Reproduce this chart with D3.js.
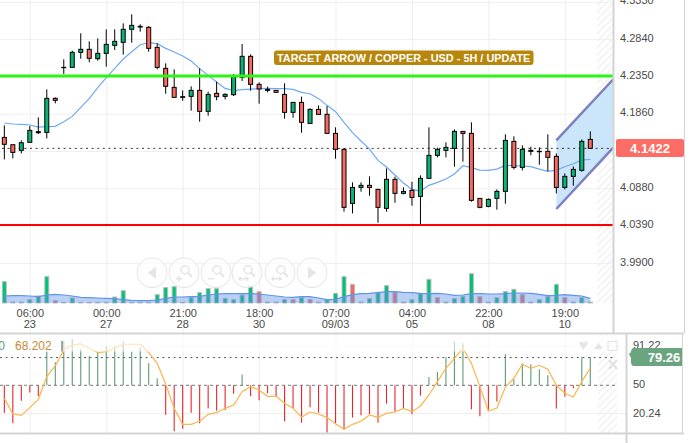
<!DOCTYPE html>
<html>
<head>
<meta charset="utf-8">
<script src="https://cdn.jsdelivr.net/npm/d3@7"></script>
<style>
    html, body { margin: 0; padding: 0; background: #fff; overflow: hidden; }
    svg { display: block; font-family: "Liberation Sans", Arial, sans-serif; }
    .domain { display: none; }
</style>
</head>
<body>
<svg id="chart" width="695" height="443"></svg>
<script>
// ---- candles
const opens = [4.1530,4.1434,4.1360,4.1465,4.1592,4.1596,4.2043,4.2446,4.2450,4.2647,4.2687,4.2564,4.2634,4.2739,4.2779,4.2950,4.2980,4.2976,4.2713,4.2437,4.2187,4.2056,4.2069,4.2148,4.1872,4.2109,4.2069,4.2091,4.2319,4.2595,4.2227,4.2148,4.2148,4.2095,4.1859,4.1990,4.1714,4.1898,4.1833,4.1583,4.1373,4.0663,4.0873,4.0900,4.0847,4.0598,4.0979,4.0795,4.0834,4.0755,4.0992,4.1294,4.1360,4.1386,4.1609,4.1583,4.0729,4.0624,4.0729,4.0821,4.1478,4.1136,4.1347,4.1342,4.1347,4.1281,4.0873,4.1018,4.1097,4.1504];
const closes = [4.1439,4.1333,4.1460,4.1622,4.1605,4.2043,4.2017,4.2450,4.2647,4.2687,4.2569,4.2634,4.2752,4.2792,4.2950,4.3002,4.2989,4.2700,4.2450,4.2201,4.2056,4.2065,4.2148,4.1872,4.2095,4.2065,4.2095,4.2328,4.2595,4.2227,4.2166,4.2161,4.2122,4.1859,4.1990,4.1728,4.1898,4.1833,4.1583,4.1373,4.0611,4.0873,4.0900,4.0873,4.0611,4.0979,4.0795,4.0821,4.0742,4.0992,4.1294,4.1373,4.1399,4.1609,4.1583,4.0703,4.0611,4.0716,4.0821,4.1491,4.1136,4.1373,4.1360,4.1347,4.1268,4.0873,4.1018,4.1110,4.1478,4.1386];
const highs = [4.1688,4.1434,4.1491,4.1679,4.1793,4.2161,4.2056,4.2555,4.2669,4.2897,4.2792,4.2831,4.2950,4.2950,4.3028,4.3147,4.3015,4.2993,4.2766,4.2503,4.2424,4.2148,4.2201,4.2437,4.2131,4.2262,4.2109,4.2363,4.2757,4.2621,4.2253,4.2196,4.2148,4.2240,4.1990,4.2065,4.1912,4.1951,4.1942,4.1662,4.1386,4.0939,4.0939,4.1018,4.0856,4.1123,4.1014,4.0873,4.0948,4.1031,4.1662,4.1395,4.1465,4.1636,4.1614,4.1728,4.0729,4.0729,4.0847,4.1570,4.1544,4.1425,4.1408,4.1399,4.1570,4.1320,4.1057,4.1149,4.1504,4.1609];
const lows = [4.1241,4.1255,4.1320,4.1465,4.1574,4.1517,4.1977,4.2363,4.2450,4.2564,4.2516,4.2538,4.2459,4.2678,4.2617,4.2774,4.2919,4.2656,4.2424,4.2104,4.2052,4.2012,4.1881,4.1736,4.1815,4.2017,4.2030,4.2074,4.2271,4.2144,4.1973,4.2122,4.2117,4.1776,4.1789,4.1592,4.1714,4.1828,4.1583,4.1250,4.0554,4.0532,4.0817,4.0764,4.0409,4.0554,4.0672,4.0782,4.0633,4.0392,4.0992,4.1268,4.1268,4.1145,4.1211,4.0685,4.0598,4.0611,4.0580,4.0659,4.1110,4.1097,4.1294,4.1171,4.1084,4.0795,4.0847,4.0895,4.1079,4.1386];
const priceMa = [4.1719,4.1706,4.1701,4.1693,4.1666,4.1671,4.1675,4.1736,4.1806,4.1925,4.2039,4.2183,4.2315,4.2437,4.2560,4.2656,4.2748,4.2774,4.2761,4.2700,4.2652,4.2599,4.2533,4.2433,4.2345,4.2258,4.2174,4.2144,4.2157,4.2165,4.2170,4.2174,4.2170,4.2170,4.2161,4.2122,4.2104,4.2039,4.1951,4.1868,4.1728,4.1592,4.1482,4.1377,4.1228,4.1141,4.1036,4.0930,4.0847,4.0825,4.0900,4.0939,4.0983,4.1049,4.1158,4.1132,4.1101,4.1097,4.1114,4.1163,4.1158,4.1154,4.1145,4.1114,4.1084,4.1101,4.1145,4.1184,4.1233,4.1241];

// ---- volume (arbitrary units)
const volumes = [64,3,3,10,21,79,7,2,15,2,2,2,2,18,37,2,2,2,25,46,49,2,16,31,43,43,14,10,24,49,34,3,3,10,10,16,11,3,10,29,79,56,3,13,32,52,32,3,10,28,71,16,3,13,20,88,19,3,16,34,41,25,3,10,20,56,16,3,16,3];
const volumeDown = [6,30,34,36,41,46,51,56,61,66];
const volumeMa = [21,22,22,21,19,24,26,24,21,17,16,15,14,13,10,8,7,7,9,14,18,18,19,20,24,27,28,28,28,28,27,24,21,18,17,19,19,15,10,11,19,25,28,29,31,34,34,32,31,29,28,29,27,23,24,28,28,27,27,28,30,30,29,26,22,23,25,23,21,14];

// ---- oscillator
const oscBars = [21.1,9.9,33.8,42.3,38.7,85.6,74.3,96.8,98.9,88.0,80.6,84.8,91.2,91.2,96.5,85.6,89.8,73.2,57.4,19.0,1.4,4.2,21.1,9.9,25.4,23.2,24.0,41.2,61.3,38.4,34.2,41.6,38.4,12.0,25.7,10.6,26.8,21.1,0.0,9.9,3.5,15.9,18.3,19.7,10.6,30.6,22.2,25.4,19.4,39.1,58.8,64.1,79.6,96.1,94.4,24.7,17.3,23.6,32.8,82.7,56.3,73.2,72.2,66.9,60.6,25.4,38.0,46.8,79.6,79.6];
const oscLine = [36.3,19.7,18.3,26.4,35.2,59.2,70.4,87.3,92.6,93.6,89.1,84.5,85.6,89.1,93.3,93.3,93.3,84.5,73.2,51.4,25.7,8.8,8.8,12.0,19.4,21.1,25.7,29.2,43.3,48.6,45.1,38.4,38.4,31.0,25.7,16.2,21.8,19.7,15.9,9.5,3.5,8.8,12.0,18.7,16.2,20.4,21.8,25.7,22.2,28.2,39.8,53.9,68.0,78.5,89.1,73.2,48.6,22.9,26.1,48.2,57.4,72.2,68.0,71.1,66.9,50.0,41.6,37.7,53.9,68.3];
const oscTicks = [91.22, 50, 20.24];
const oscLevel = 79.26;

// ---- axes and annotations
const priceTicks = [4.333,4.284,4.235,4.186,4.137,4.088,4.039,3.990];
const hiddenPriceLabel = 4.137; // sits under the last price tag
const timeTickIndex = [3,12,21,30,39,48,57,66];
const timeTickTop = ["06:00","00:00","21:00","18:00","07:00","04:00","22:00","19:00"];
const timeTickBottom = ["23","27","28","30","09/03","05","08","10"];
const resistance = 4.2337;
const support = 4.0379;
const channelIndex = [65, 71.7];
const channelUpper = [4.1491, 4.2293];
const channelLower = [4.0589, 4.1395];

const GREEN = "#0ab574", RED = "#f8695f", GRID = "#efefef", BORDER = "#d4d4d4", TEXT = "#4a4a4a";
const paneRight = 613, oscRight = 626;

const svg = d3.select("#chart");

const x = d3.scaleLinear().domain([0, 69]).range([4.33, 590.3]);
const y = d3.scaleLinear().domain([4.3335, 4.3335 - 0.0013137 * 300]).range([0, 300]);
const yVol = d3.scaleLinear().domain([0, 90]).range([303, 273]);
const yOsc = d3.scaleLinear().domain([50, 20.24]).range([385.3, 413.5]);
const axisNudge = 1.4; // price labels sit slightly below the marks in the original

// hatch for the empty area right of the last bar
const hatch = svg.append("defs").append("pattern")
    .attr("id", "hatch").attr("width", 5).attr("height", 5)
    .attr("patternUnits", "userSpaceOnUse").attr("patternTransform", "rotate(-45)");
hatch.append("rect").attr("width", 5).attr("height", 5).attr("fill", "#fff");
hatch.append("rect").attr("width", 5).attr("height", 2).attr("fill", "#f4f4f4");

const defs = svg.select("defs");
defs.append("clipPath").attr("id", "mainClip").append("rect")
    .attr("x", 0).attr("y", 0).attr("width", paneRight).attr("height", 333);

svg.append("rect").attr("x", 597).attr("y", 0).attr("width", 16).attr("height", 303).attr("fill", "url(#hatch)");
svg.append("rect").attr("x", 598).attr("y", 334).attr("width", 19).attr("height", 99).attr("fill", "url(#hatch)");

// grid
const grid = svg.append("g");
grid.append("g")
    .attr("transform", `translate(0,${axisNudge})`)
    .call(d3.axisRight(y).tickValues(priceTicks).tickSize(paneRight).tickFormat(""))
    .selectAll("line").attr("stroke", GRID);
grid.append("g")
    .call(d3.axisBottom(x).tickValues(timeTickIndex).tickSize(333).tickFormat(""))
    .selectAll("line").attr("stroke", GRID);
grid.append("g")
    .attr("transform", "translate(0,333)")
    .call(d3.axisBottom(x).tickValues(timeTickIndex).tickSize(100).tickFormat(""))
    .selectAll("line").attr("stroke", GRID);
grid.selectAll(".oscGrid")
    .data(oscTicks.filter(d => d !== 50))
    .enter().append("line")
    .attr("x1", 0).attr("x2", oscRight)
    .attr("y1", d => yOsc(d)).attr("y2", d => yOsc(d))
    .attr("stroke", GRID);

// channel drawing
const channelPts = channelIndex.map((d, i) => ({ i: d, up: channelUpper[i], lo: channelLower[i] }));
const main = svg.append("g").attr("clip-path", "url(#mainClip)");
main.append("path")
    .datum(channelPts)
    .attr("fill", "#cbe6fb")
    .attr("d", d3.area().x(d => x(d.i)).y0(d => y(d.lo)).y1(d => y(d.up)));

// last price line
main.append("line")
    .attr("x1", 2).attr("x2", paneRight)
    .attr("y1", y(closes[69])).attr("y2", y(closes[69]))
    .attr("stroke", "#333").attr("stroke-dasharray", "2,3.6");

// moving average
main.append("path")
    .datum(priceMa)
    .attr("fill", "none").attr("stroke", "#6fa8f5").attr("stroke-width", 1.2)
    .attr("d", d3.line().x((d, i) => x(i)).y(d => y(d)));

// candles
const candles = main.selectAll(".candle").data(opens).enter().append("g");
candles.append("line")
    .attr("x1", (d, i) => x(i)).attr("x2", (d, i) => x(i))
    .attr("y1", (d, i) => y(highs[i])).attr("y2", (d, i) => y(lows[i]))
    .attr("stroke", "#000");
candles.append("rect")
    .attr("x", (d, i) => x(i) - 2)
    .attr("y", (d, i) => y(Math.max(d, closes[i])))
    .attr("width", 4)
    .attr("height", (d, i) => Math.abs(y(d) - y(closes[i])))
    .attr("fill", (d, i) => closes[i] >= d ? GREEN : RED)
    .attr("stroke", "#000");

// support and resistance, channel borders
main.append("line")
    .attr("x1", 0).attr("x2", paneRight)
    .attr("y1", y(resistance)).attr("y2", y(resistance))
    .attr("stroke", "#2cf516").attr("stroke-width", 3);
main.append("line")
    .attr("x1", 0).attr("x2", paneRight)
    .attr("y1", y(support)).attr("y2", y(support))
    .attr("stroke", "#ff0000").attr("stroke-width", 2);
[channelUpper, channelLower].forEach(series => {
    main.append("line")
        .attr("x1", x(channelIndex[0])).attr("x2", x(channelIndex[1]))
        .attr("y1", y(series[0])).attr("y2", y(series[1]))
        .attr("stroke", "#7c7fc0").attr("stroke-width", 2.4);
});

// volume
main.selectAll(".vol").data(volumes).enter().append("rect")
    .attr("x", (d, i) => x(i) - 2)
    .attr("y", d => yVol(d))
    .attr("width", 4)
    .attr("height", d => yVol(0) - yVol(d))
    .attr("fill", (d, i) => volumeDown.includes(i) ? RED : "#00c176")
    .attr("stroke", "#bdbdbd");
main.append("path")
    .datum(volumeMa)
    .attr("fill", "rgba(92,142,232,0.42)")
    .attr("d", d3.area().x((d, i) => x(i)).y0(yVol(0)).y1(d => yVol(d)));
main.append("path")
    .datum(volumeMa)
    .attr("fill", "none").attr("stroke", "#5f93ec").attr("stroke-width", 1.2)
    .attr("d", d3.line().x((d, i) => x(i)).y(d => yVol(d)));

// chart navigation buttons
const navX = [152, 184, 216, 247, 280, 312];
const nav = svg.append("g").attr("fill", "none").attr("stroke", "#e4e4e4");
navX.forEach((cx, i) => {
    const b = nav.append("g").attr("transform", `translate(${cx},272.7)`);
    b.append("circle").attr("r", 15).attr("fill", "#fff").attr("fill-opacity", 0.5).attr("stroke-width", 1);
    if (i === 0 || i === 5) {
        const s = i === 0 ? 1 : -1;
        b.append("path").attr("d", `M${s * 4},-6 L${s * 4},6 L${-s * 4},0 Z`)
            .attr("fill", "#e4e4e4").attr("stroke", "none");
        return;
    }
    b.append("circle").attr("cx", 1).attr("cy", -3).attr("r", 4).attr("stroke-width", 1.4);
    b.append("line").attr("x1", 4).attr("y1", 0).attr("x2", 8).attr("y2", 4).attr("stroke-width", 2);
    b.append("path").attr("stroke-width", 1.6)
        .attr("d", i === 1 ? "M-8,6 H-2 M-5,3 V9" : i === 2 ? "M-8,6 H-2" : "M-8,6 H1 M-6,4 L-8,6 L-6,8 M-1,4 L1,6 L-1,8");
});

// annotation label
svg.append("rect")
    .attr("x", 274).attr("y", 50.5).attr("width", 259.5).attr("height", 14.5)
    .attr("rx", 3).attr("fill", "#b8860b");
svg.append("text")
    .attr("x", 403.7).attr("y", 61.6)
    .attr("text-anchor", "middle")
    .attr("font-size", 10.9).attr("font-weight", "bold").attr("fill", "#fff")
    .text("TARGET ARROW / COPPER - USD - 5H / UPDATE");

// time axis
const timeAxis = svg.append("g")
    .attr("transform", "translate(0,303)")
    .call(d3.axisBottom(x).tickValues(timeTickIndex).tickSize(0).tickPadding(4)
        .tickFormat((d, i) => timeTickTop[i]));
timeAxis.selectAll("text").attr("font-size", 11).attr("fill", TEXT)
    .attr("font-family", "Liberation Sans").attr("y", 0).attr("dy", 14);
svg.append("g").selectAll("text")
    .data(timeTickBottom).enter().append("text")
    .attr("x", (d, i) => x(timeTickIndex[i]))
    .attr("y", 327.5)
    .attr("text-anchor", "middle")
    .attr("font-size", 11).attr("fill", TEXT)
    .text(d => d);

// price axis
const priceAxis = svg.append("g")
    .attr("transform", `translate(620,${axisNudge})`)
    .call(d3.axisRight(y).tickValues(priceTicks).tickSize(0).tickPadding(0)
        .tickFormat(d => d === hiddenPriceLabel ? "" : d3.format(".4f")(d)));
priceAxis.selectAll("text").attr("font-size", 11).attr("fill", TEXT)
    .attr("font-family", "Liberation Sans").attr("dy", "0.2em");

// oscillator pane
const osc = svg.append("g");
osc.selectAll("line.bar").data(oscBars).enter().append("line")
    .attr("x1", (d, i) => x(i)).attr("x2", (d, i) => x(i))
    .attr("y1", yOsc(50)).attr("y2", d => yOsc(d))
    .attr("stroke", d => d >= 50 ? "#5c9b74" : "#e9262a")
    .attr("stroke-width", 1.1);
osc.append("line")
    .attr("x1", 0).attr("x2", 615)
    .attr("y1", yOsc(50)).attr("y2", yOsc(50))
    .attr("stroke", "#777").attr("stroke-dasharray", "3,3");
osc.append("line")
    .attr("x1", 0).attr("x2", 615)
    .attr("y1", yOsc(oscLevel)).attr("y2", yOsc(oscLevel))
    .attr("stroke", "#555").attr("stroke-dasharray", "2,3.6");
osc.append("path")
    .datum(oscLine)
    .attr("fill", "none").attr("stroke", "#fdb44b").attr("stroke-width", 1.2)
    .attr("d", d3.line().x((d, i) => x(i)).y(d => yOsc(d)));
// legend strip washes out the top of the pane
osc.append("rect")
    .attr("x", 0).attr("y", 334).attr("width", oscRight).attr("height", 17.5)
    .attr("fill", "#fff").attr("fill-opacity", 0.62);
osc.append("text").attr("x", 5).attr("y", 350)
    .attr("text-anchor", "end").attr("font-size", 12).attr("fill", "#5c9b74").text("0");
osc.append("text").attr("x", 15).attr("y", 350)
    .attr("font-size", 12).attr("fill", "#c98a3a").text("68.202");
osc.append("line").attr("x1", 62).attr("x2", 62).attr("y1", 341).attr("y2", 351.5)
    .attr("stroke", "#888").attr("stroke-width", 1.5);

// pane controls, top right of the oscillator
const ctl = svg.append("g").attr("fill", "#e6e6e6");
ctl.append("path").attr("d", "M579,343 h9 l-4.5,7 Z M579,343 a2.5,2.5 0 0 1 4.5,0 a2.5,2.5 0 0 1 4.5,0");
ctl.append("path").attr("d", "M594,349 l4.5,-6 l4.5,6 Z");
ctl.append("rect").attr("x", 608).attr("y", 341.5).attr("width", 9).attr("height", 9)
    .attr("fill", "none").attr("stroke", "#e2e2e2");
ctl.append("path").attr("d", "M609,360 L617,369 M617,360 L609,369")
    .attr("stroke", "#e2e2e2").attr("stroke-width", 2.4);

// oscillator axis labels
svg.selectAll(".oscTick").data(oscTicks).enter().append("text")
    .attr("x", 633)
    .attr("y", d => yOsc(d) + 3)
    .attr("font-size", 11).attr("fill", TEXT)
    .text(d => d);
svg.append("text").attr("x", 633).attr("y", 451)
    .attr("font-size", 11).attr("fill", TEXT).text(oscTicks[0]);

// pane borders
const borders = [
    [paneRight + 0.5, 0, paneRight + 0.5, 333],
    [oscRight + 0.5, 333, oscRight + 0.5, 443],
    [684.5, 0, 684.5, 333],
    [682.5, 333, 682.5, 433],
    [0, 333.5, 684, 333.5],
    [0, 433.5, 684, 433.5]
];
svg.append("g").selectAll("line").data(borders).enter().append("line")
    .attr("x1", d => d[0]).attr("y1", d => d[1]).attr("x2", d => d[2]).attr("y2", d => d[3])
    .attr("stroke", BORDER).attr("stroke-width", (d, i) => i === 2 || i === 3 ? 1 : 2);

// current value tags
svg.append("rect")
    .attr("x", 616).attr("y", 139).attr("width", 68).attr("height", 18)
    .attr("rx", 2).attr("fill", "#fd6d65");
svg.append("text")
    .attr("x", 650).attr("y", 152.5).attr("text-anchor", "middle")
    .attr("font-size", 13).attr("font-weight", "bold").attr("fill", "#fff")
    .text("4.1422");
svg.append("path")
    .attr("d", "M629,354 L631,352 Q631,348 634,348 H682 V366 H634 Q631,366 631,362 V358 Z")
    .attr("fill", "#6ba57f");
svg.append("text")
    .attr("x", 664).attr("y", 361.5).attr("text-anchor", "middle")
    .attr("font-size", 13).attr("font-weight", "bold").attr("fill", "#fff")
    .text("79.26");
</script>
</body>
</html>
